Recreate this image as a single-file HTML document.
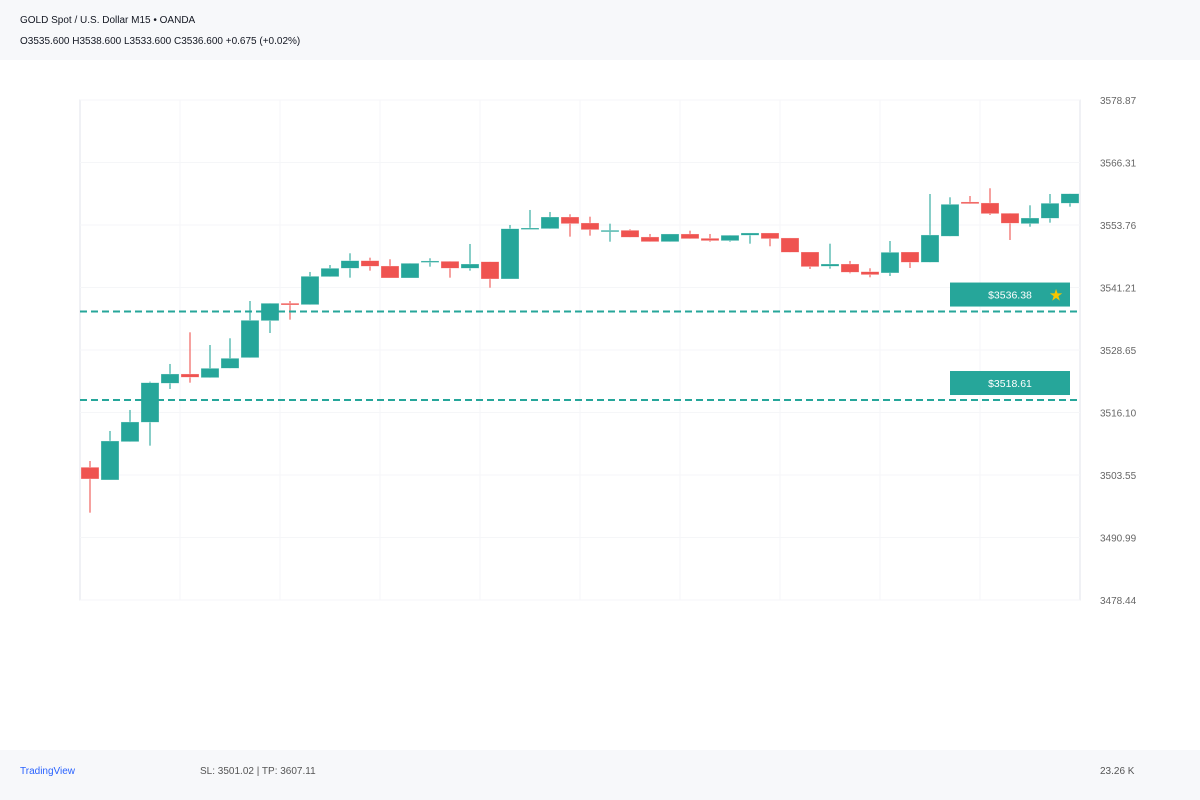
<!DOCTYPE html>
<html><head><meta charset="utf-8"><style>
body{margin:0;width:1200px;height:800px;background:#fff;font-family:"Liberation Sans",sans-serif;overflow:hidden;position:relative}
.hdr{position:absolute;left:0;top:0;width:1200px;height:60px;background:#f7f8fa}
.ftr{position:absolute;left:0;top:750px;width:1200px;height:50px;background:#f7f8fa}
.t{position:absolute;font-size:10px;color:#131722;white-space:nowrap}
</style></head><body>
<div class="hdr">
<div class="t" style="left:20px;top:15px">GOLD Spot / U.S. Dollar M15 • OANDA</div>
<div class="t" style="left:20px;top:36px">O3535.600 H3538.600 L3533.600 C3536.600 +0.675 (+0.02%)</div>
</div>
<svg id="chart" width="1200" height="800" style="position:absolute;left:0;top:0"></svg>
<div class="ftr">
<div class="t" style="left:20px;top:16px;color:#2962ff">TradingView</div>
<div class="t" style="left:200px;top:16px;color:#555">SL: 3501.02 | TP: 3607.11</div>
<div class="t" style="left:1100px;top:16px;color:#555">23.26 K</div>
</div>
<script>
const opens=[3505.10,3502.55,3510.24,3514.14,3521.97,3523.84,3523.10,3524.98,3527.11,3534.54,3538.04,3537.76,3543.38,3545.07,3546.60,3545.53,3543.12,3546.27,3546.47,3545.07,3546.39,3542.92,3552.90,3553.02,3555.37,3554.17,3552.42,3552.70,3551.36,3550.41,3551.96,3551.09,3550.61,3551.70,3552.16,3551.16,3548.34,3545.47,3545.93,3544.39,3544.13,3548.34,3546.27,3551.50,3558.39,3558.19,3556.12,3554.03,3555.11,3558.13];
const highs=[3506.36,3512.39,3516.61,3522.30,3525.85,3532.21,3529.66,3531.01,3538.50,3538.04,3538.50,3544.33,3545.73,3548.08,3547.20,3546.88,3546.07,3547.08,3546.47,3549.95,3546.39,3553.77,3556.78,3556.38,3555.92,3555.43,3554.03,3552.90,3551.96,3551.96,3552.62,3551.96,3551.70,3552.16,3552.16,3551.16,3548.34,3550.01,3546.54,3545.07,3550.55,3548.34,3559.99,3559.33,3559.59,3561.14,3556.12,3557.72,3559.99,3560.05];
const lows=[3495.98,3502.55,3510.24,3509.44,3520.83,3522.09,3523.10,3524.98,3527.11,3532.07,3534.75,3537.76,3543.38,3543.18,3544.59,3543.12,3543.12,3545.39,3543.18,3544.59,3541.17,3542.92,3552.90,3553.02,3551.42,3551.62,3550.41,3551.30,3550.41,3550.41,3551.01,3550.41,3550.41,3550.01,3549.49,3548.28,3544.93,3544.99,3544.06,3543.26,3543.52,3545.13,3546.27,3551.50,3558.04,3555.78,3550.75,3553.42,3554.23,3557.44];
const closes=[3502.75,3510.38,3514.20,3522.09,3523.84,3523.18,3524.98,3526.99,3534.62,3538.04,3537.70,3543.46,3545.07,3546.60,3545.47,3543.12,3546.07,3546.54,3545.07,3545.93,3542.92,3553.02,3553.16,3555.37,3554.03,3552.82,3552.70,3551.30,3550.41,3551.96,3551.01,3550.61,3551.70,3552.16,3551.01,3548.28,3545.39,3545.93,3544.27,3543.78,3548.28,3546.27,3551.76,3557.92,3558.04,3556.04,3554.11,3555.17,3558.13,3560.05];
const priceTicks=["3578.87","3566.31","3553.76","3541.21","3528.65","3516.10","3503.55","3490.99","3478.44"];
const levels=[3536.38,3518.61];
const levelLabels=["$3536.38","$3518.61"];
const ns="http://www.w3.org/2000/svg",svg=document.getElementById('chart');
const X0=80,X1=1080,Y0=100,Y1=600,PMAX=3578.87,PMIN=3478.44;
const y=p=>Y0+(PMAX-p)/(PMAX-PMIN)*(Y1-Y0);
const x=i=>X0+10+i*20;
function mk(t,a){const e=document.createElementNS(ns,t);for(const k in a)e.setAttribute(k,a[k]);svg.appendChild(e);return e;}
let e=mk('rect',{x:X0,y:Y0,width:X1-X0,height:Y1-Y0,fill:'none',stroke:'#e0e3eb'});


for(let i=1;i<10;i++){e=mk('line',{x1:X0+i*100,x2:X0+i*100,y1:Y0,y2:Y1,stroke:'#f5f6f8'});

}
priceTicks.forEach(t=>{const yy=y(parseFloat(t));
e=mk('line',{x1:X0,x2:X1,y1:yy,y2:yy,stroke:'#f5f6f8'});


e=mk('text',{x:1100,y:yy+4,'font-size':'10','fill':'#666','font-family':'Liberation Sans, sans-serif'});e.textContent=t;

});
opens.forEach((o,i)=>{const c=closes[i],up=c>=o,col=up?'#26a69a':'#ef5350';
e=mk('line',{x1:x(i),x2:x(i),y1:y(highs[i]),y2:y(lows[i]),stroke:col,'stroke-opacity':0.55,'stroke-width':2});


const t=y(Math.max(o,c)),b=y(Math.min(o,c));
e=mk('rect',{x:x(i)-9,y:t,width:18,height:Math.max(b-t,1.5),fill:col,stroke:'#fff','stroke-opacity':0.5,'stroke-width':0.6});

});
levels.forEach((p,i)=>{const yy=y(p);
e=mk('line',{x1:X0,x2:X1,y1:yy,y2:yy,stroke:'#26a69a','stroke-width':2,'stroke-dasharray':'7,4'});


e=mk('rect',{x:950,y:yy-29,width:120,height:24,fill:'#26a69a'});


e=mk('text',{x:1010,y:yy-13,'font-size':'10.5','fill':'#fff','text-anchor':'middle','font-family':'Liberation Sans, sans-serif'});e.textContent=levelLabels[i];


if(i===0){e=mk('text',{x:1056,y:yy-11,'font-size':'16','fill':'#f7c600','text-anchor':'middle','font-family':'DejaVu Sans, sans-serif'});e.textContent='★';

}});
</script>
</body></html>
